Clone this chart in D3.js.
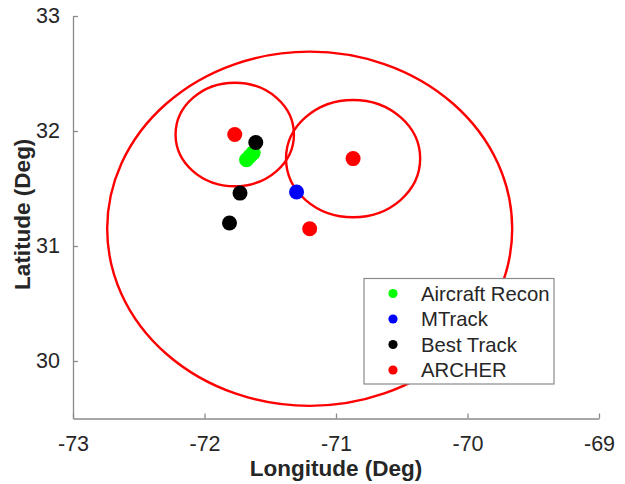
<!DOCTYPE html>
<html>
<head>
    <meta charset="utf-8" />
    <style>
        body { margin: 0; background: #fff; }
        svg { font-family: "Liberation Sans", Arial, sans-serif; }
        .axis path, .axis line {
            stroke: #8a8a8a;
            stroke-width: 1.3;
        }
        .axis text {
            font-size: 21.5px;
            fill: #262626;
        }
        .title {
            font-size: 22.5px;
            font-weight: bold;
            fill: #262626;
        }
        .legend text {
            font-size: 20.3px;
            fill: #262626;
        }
    </style>
    <script src="https://d3js.org/d3.v7.min.js"></script>
</head>
<body>
<script>

// data
let seriesNames = ["Aircraft Recon", "MTrack", "Best Track", "ARCHER"];
let seriesColors = ["#00ff00", "#0000ff", "#000000", "#ff0000"];

let aircraftRecon = [[-71.68, 31.75], [-71.655, 31.78], [-71.63, 31.81]];
let mTrack = [[-71.30, 31.47]];
let bestTrack = [[-71.61, 31.90], [-71.73, 31.46], [-71.81, 31.20]];
let archer = [[-71.77, 31.97], [-70.87, 31.76], [-71.20, 31.15]];
// uncertainty radius (deg) around each ARCHER fix
let archerRadius = [0.45, 0.51, 1.54];

let xTicks = [-73, -72, -71, -70, -69];
let yTicks = [30, 31, 32, 33];

// svg setup
let realW = 625, realH = 484;
let margin = { top: 16, right: 26, bottom: 65.5, left: 73 };
let w = realW - margin.left - margin.right,
    h = realH - margin.top - margin.bottom;

let svg = d3.select("body")
    .append("svg")
    .attr("width", realW)
    .attr("height", realH);

let g = svg.append("g")
    .attr("transform", "translate(" + margin.left + "," + margin.top + ")");

let xScale = d3.scaleLinear().domain([-73, -69]).range([0, w]);
let yScale = d3.scaleLinear().domain([29.5, 33]).range([h, 0]);

// axes, ticks pointing inward like matlab
let xAxis = d3.axisBottom(xScale)
    .tickValues(xTicks)
    .tickSizeInner(-5)
    .tickSizeOuter(0)
    .tickPadding(17)
    .tickFormat(d3.format("d"));

let yAxis = d3.axisLeft(yScale)
    .tickValues(yTicks)
    .tickSizeInner(-5)
    .tickSizeOuter(0)
    .tickPadding(13)
    .tickFormat(d3.format("d"));

let gx = g.append("g")
    .attr("class", "axis")
    .attr("transform", "translate(0," + h + ")")
    .call(xAxis);
gx.selectAll("text").attr("dy", "0.71em");
gx.selectAll("text").text(d => d < 0 ? "-" + Math.abs(d) : d);

let gy = g.append("g")
    .attr("class", "axis")
    .call(yAxis);

// axis titles
g.append("text")
    .attr("class", "title")
    .attr("x", w / 2)
    .attr("y", h + 57)
    .attr("text-anchor", "middle")
    .text("Longitude (Deg)");

g.append("text")
    .attr("class", "title")
    .attr("transform", "translate(" + (30 - margin.left) + "," + (h / 2 - 3) + ") rotate(-90)")
    .attr("text-anchor", "middle")
    .text("Latitude (Deg)");

// uncertainty circles (in degrees, so ellipses on screen)
g.selectAll("ellipse")
    .data(archer)
    .enter()
    .append("ellipse")
    .attr("cx", d => xScale(d[0]))
    .attr("cy", d => yScale(d[1]))
    .attr("rx", (d, i) => xScale(d[0] + archerRadius[i]) - xScale(d[0]))
    .attr("ry", (d, i) => yScale(d[1]) - yScale(d[1] + archerRadius[i]))
    .attr("fill", "none")
    .attr("stroke", "#ff0000")
    .attr("stroke-width", 2.4);

// points
let allSeries = [aircraftRecon, mTrack, bestTrack, archer];
allSeries.forEach((pts, k) => {
    g.append("g")
        .selectAll("circle")
        .data(pts)
        .enter()
        .append("circle")
        .attr("cx", d => xScale(d[0]))
        .attr("cy", d => yScale(d[1]))
        .attr("r", 7.5)
        .attr("fill", seriesColors[k]);
});

// legend
let legend = svg.append("g")
    .attr("class", "legend")
    .attr("transform", "translate(364,278.5)");

legend.append("rect")
    .attr("width", 190)
    .attr("height", 105.5)
    .attr("fill", "#fff")
    .attr("stroke", "#8a8a8a")
    .attr("stroke-width", 1.2);

let item = legend.selectAll("g.item")
    .data(seriesNames)
    .enter()
    .append("g")
    .attr("class", "item")
    .attr("transform", (d, i) => "translate(0," + (15 + i * 25.5) + ")");

item.append("circle")
    .attr("cx", 29)
    .attr("r", 4.6)
    .attr("fill", (d, i) => seriesColors[i]);

item.append("text")
    .attr("x", 57)
    .attr("dy", "0.35em")
    .text(d => d);

</script>
</body>
</html>
